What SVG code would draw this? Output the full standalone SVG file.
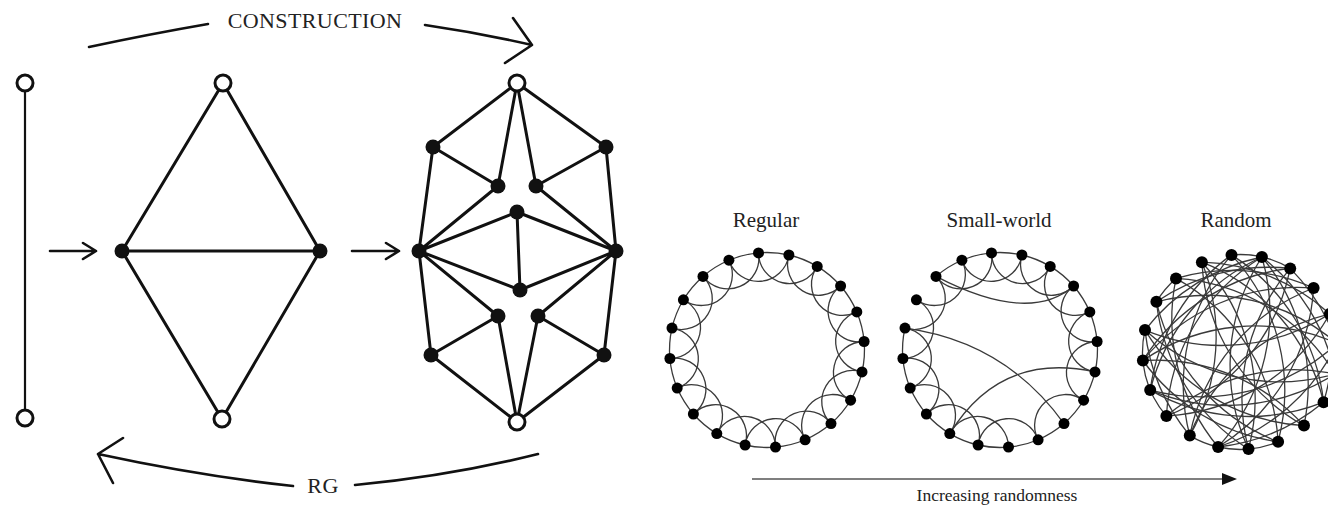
<svg xmlns="http://www.w3.org/2000/svg" xmlns:xlink="http://www.w3.org/1999/xlink" width="1328" height="506" viewBox="0 0 1328 506">
<style>
.e{stroke:#111;stroke-width:3;fill:none;stroke-linecap:round}
.thin{stroke:#111;stroke-width:2.2;fill:none}
.arr{stroke:#111;stroke-width:2.6;fill:none;stroke-linecap:round;stroke-linejoin:round}
.open{fill:#fff;stroke:#111;stroke-width:3}
.full{fill:#111}
.ne{stroke:#3a3a3a;stroke-width:1.3;fill:none}
.dot{fill:#000}
.lab{font-family:"Liberation Serif",serif;font-size:21px;fill:#222;text-anchor:middle}
.big{font-family:"Liberation Serif",serif;font-size:22px;fill:#222;text-anchor:middle;letter-spacing:0.4px}
.cap{font-family:"Liberation Serif",serif;font-size:17.5px;fill:#222;text-anchor:middle}
</style>
<defs>
<path id="nb" d="M0,-97.5 A97.5,97.5 0 0 1 30.13,-92.73"/>
<path id="sk" d="M0,-97.5 A31,31 0 0 0 57.31,-78.88"/>
<g id="pair"><use xlink:href="#nb"/><use xlink:href="#sk"/></g>
</defs>
<rect width="1328" height="506" fill="#fff"/>

<!-- connectors -->
<g id="connectors">
  <line class="thin" x1="25" y1="83" x2="25" y2="418"/>
  <path class="arr" d="M50,251 H96 M83,243 L96,251 L83,259"/>
  <path class="arr" d="M352,251 H399 M386,243 L399,251 L386,259"/>
  <path class="e" d="M223,83 L122,251 M223,83 L320,251 M122,251 L320,251 M122,251 L222,419 M320,251 L222,419"/>
  <path class="e" d="M517,83 L433,147 M517,83 L606,147 M517,83 L498,186 M517,83 L536,186
    M433,147 L498,186 M606,147 L536,186 M433,147 L419,251 M606,147 L616,251
    M498,186 L419,251 M536,186 L616,251 M419,251 L517,212 M616,251 L517,212 M517,212 L520,290
    M419,251 L520,290 M616,251 L520,290 M419,251 L498,316 M616,251 L538,316
    M419,251 L431,355 M616,251 L604,355 M431,355 L498,316 M604,355 L538,316
    M431,355 L517,422 M604,355 L517,422 M498,316 L517,422 M538,316 L517,422"/>
  <path class="arr" d="M89,47 Q150,34 208,24"/>
  <path class="arr" d="M425,25 Q480,33 532,45 M513,18 L532,45 L505,63"/>
  <path class="arr" d="M538,454 Q450,476 355,485"/>
  <path class="arr" d="M293,486 Q200,476 98,454 M123,438 L98,454 L113,483"/>

  <!-- regular ring -->
  <g class="ne" transform="translate(767,350)">
    <use xlink:href="#pair" transform="rotate(-5)"/>
    <use xlink:href="#pair" transform="rotate(13)"/>
    <use xlink:href="#pair" transform="rotate(31)"/>
    <use xlink:href="#pair" transform="rotate(49)"/>
    <use xlink:href="#pair" transform="rotate(67)"/>
    <use xlink:href="#pair" transform="rotate(85)"/>
    <use xlink:href="#pair" transform="rotate(103)"/>
    <use xlink:href="#pair" transform="rotate(121)"/>
    <use xlink:href="#pair" transform="rotate(139)"/>
    <use xlink:href="#pair" transform="rotate(157)"/>
    <use xlink:href="#pair" transform="rotate(175)"/>
    <use xlink:href="#pair" transform="rotate(193)"/>
    <use xlink:href="#pair" transform="rotate(211)"/>
    <use xlink:href="#pair" transform="rotate(229)"/>
    <use xlink:href="#pair" transform="rotate(247)"/>
    <use xlink:href="#pair" transform="rotate(265)"/>
    <use xlink:href="#pair" transform="rotate(283)"/>
    <use xlink:href="#pair" transform="rotate(301)"/>
    <use xlink:href="#pair" transform="rotate(319)"/>
    <use xlink:href="#pair" transform="rotate(337)"/>
  </g>

  <!-- small-world ring -->
  <g class="ne" transform="translate(1000,350)">
    <use xlink:href="#pair" transform="rotate(-5)"/>
    <use xlink:href="#pair" transform="rotate(13)"/>
    <use xlink:href="#pair" transform="rotate(31)"/>
    <use xlink:href="#pair" transform="rotate(49)"/>
    <use xlink:href="#pair" transform="rotate(67)"/>
    <use xlink:href="#pair" transform="rotate(85)"/>
    <use xlink:href="#nb" transform="rotate(103)"/>
    <use xlink:href="#pair" transform="rotate(121)"/>
    <use xlink:href="#nb" transform="rotate(139)"/>
    <use xlink:href="#pair" transform="rotate(157)"/>
    <use xlink:href="#pair" transform="rotate(175)"/>
    <use xlink:href="#pair" transform="rotate(193)"/>
    <use xlink:href="#pair" transform="rotate(211)"/>
    <use xlink:href="#pair" transform="rotate(229)"/>
    <use xlink:href="#pair" transform="rotate(247)"/>
    <use xlink:href="#pair" transform="rotate(265)"/>
    <use xlink:href="#sk" transform="rotate(283)"/>
    <use xlink:href="#sk" transform="rotate(301)"/>
    <use xlink:href="#pair" transform="rotate(319)"/>
    <use xlink:href="#pair" transform="rotate(337)"/>
    <path d="M-64,-73.6 Q29.2,-25.2 73.6,-64"/>
    <path d="M-95,-21.9 Q5.1,-8.4 64,73.6"/>
    <path d="M-50.2,83.6 Q0.5,1.2 95,21.9"/>
  </g>

  <!-- random graph -->
  <g class="ne" transform="translate(1240,352)">
    <path d="M-8.5,-97.1 A200,200 0 0 1 38.1,89.8"/>
    <path d="M-8.5,-97.1 A200,200 0 0 0 -50.2,83.6"/>
    <path d="M-8.5,-97.1 A200,200 0 0 1 83.6,50.2"/>
    <path d="M-8.5,-97.1 A200,200 0 0 0 -89.8,38.1"/>
    <path d="M21.9,-95 A200,200 0 0 0 8.5,97.1"/>
    <path d="M21.9,-95 A200,200 0 0 0 -73.6,64"/>
    <path d="M21.9,-95 A200,200 0 0 1 -21.9,95"/>
    <path d="M21.9,-95 A200,200 0 0 0 -89.8,38.1"/>
    <path d="M21.9,-95 A200,200 0 0 1 64,73.6"/>
    <path d="M21.9,-95 A200,200 0 0 0 -95,-21.9"/>
    <path d="M21.9,-95 A200,200 0 0 1 95,21.9"/>
    <path d="M50.2,-83.6 A200,200 0 0 0 -83.6,-50.2"/>
    <path d="M50.2,-83.6 A200,200 0 0 1 -73.6,64"/>
    <path d="M50.2,-83.6 A200,200 0 0 0 8.5,97.1"/>
    <path d="M50.2,-83.6 A200,200 0 0 0 -97.1,8.5"/>
    <path d="M73.6,-64 A200,200 0 0 0 -97.1,8.5"/>
    <path d="M73.6,-64 A200,200 0 0 0 -64,-73.6"/>
    <path d="M73.6,-64 A200,200 0 0 1 -21.9,95"/>
    <path d="M73.6,-64 A200,200 0 0 0 -50.2,83.6"/>
    <path d="M89.8,-38.1 A200,200 0 0 1 -95,-21.9"/>
    <path d="M89.8,-38.1 A200,200 0 0 0 -50.2,83.6"/>
    <path d="M89.8,-38.1 A200,200 0 0 0 -38.1,-89.8"/>
    <path d="M89.8,-38.1 A200,200 0 0 1 -73.6,64"/>
    <path d="M97.1,-8.5 A200,200 0 0 0 -97.1,8.5"/>
    <path d="M97.1,-8.5 A200,200 0 0 1 -89.8,38.1"/>
    <path d="M97.1,-8.5 A200,200 0 0 0 -83.6,-50.2"/>
    <path d="M97.1,-8.5 A200,200 0 0 1 -21.9,95"/>
    <path d="M95,21.9 A200,200 0 0 1 -95,-21.9"/>
    <path d="M95,21.9 A200,200 0 0 0 -73.6,64"/>
    <path d="M95,21.9 A200,200 0 0 0 -64,-73.6"/>
    <path d="M95,21.9 A200,200 0 0 1 -89.8,38.1"/>
    <path d="M83.6,50.2 A200,200 0 0 1 -89.8,38.1"/>
    <path d="M83.6,50.2 A200,200 0 0 0 -38.1,-89.8"/>
    <path d="M83.6,50.2 A200,200 0 0 1 -21.9,95"/>
    <path d="M64,73.6 A200,200 0 0 1 -95,-21.9"/>
    <path d="M64,73.6 A200,200 0 0 1 -38.1,-89.8"/>
    <path d="M64,73.6 A200,200 0 0 0 -97.1,8.5"/>
    <path d="M38.1,89.8 A200,200 0 0 0 -64,-73.6"/>
    <path d="M38.1,89.8 A200,200 0 0 1 -97.1,8.5"/>
    <path d="M38.1,89.8 A200,200 0 0 1 -83.6,-50.2"/>
    <path d="M8.5,97.1 A200,200 0 0 1 -83.6,-50.2"/>
    <path d="M8.5,97.1 A200,200 0 0 0 -38.1,-89.8"/>
    <path d="M-21.9,95 A200,200 0 0 1 -64,-73.6"/>
    <path d="M-50.2,83.6 A200,200 0 0 0 -38.1,-89.8"/>
    <path d="M-73.6,64 A97.5,97.5 0 0 1 -95,-21.9"/>
    <path d="M-21.9,95 A97.5,97.5 0 0 1 -50.2,83.6"/>
    <path d="M8.5,97.1 A97.5,97.5 0 0 1 -21.9,95"/>
    <path d="M38.1,89.8 A97.5,97.5 0 0 1 8.5,97.1"/>
    <path d="M-50.2,83.6 A200,200 0 0 1 -95,-21.9"/>
    <path d="M-8.5,-97.1 A97.5,97.5 0 0 1 50.2,-83.6"/>
    <path d="M50.2,-83.6 A200,200 0 0 1 97.1,-8.5"/>
    <path d="M-64,-73.6 A97.5,97.5 0 0 0 -83.6,-50.2"/>
    <path d="M89.8,-38.1 A200,200 0 0 1 83.6,50.2"/>
  </g>
  <line x1="752" y1="479" x2="1224" y2="479" stroke="#555" stroke-width="1.6"/>
  <polygon points="1222,473 1237,479 1222,485" fill="#111"/>
</g>

<g id="s1-top"><circle class="open" cx="25" cy="83" r="8"/></g>
<g id="s1-bot"><circle class="open" cx="25" cy="418" r="8"/></g>
<g id="s2-top"><circle class="open" cx="223" cy="83" r="8"/></g>
<g id="s2-bot"><circle class="open" cx="222" cy="419" r="8"/></g>
<g id="s2-left"><circle class="full" cx="122" cy="251" r="7.5"/></g>
<g id="s2-right"><circle class="full" cx="320" cy="251" r="7.5"/></g>
<g id="s3-top"><circle class="open" cx="517" cy="83" r="8"/></g>
<g id="s3-bot"><circle class="open" cx="517" cy="422" r="8"/></g>
<g id="s3-left"><circle class="full" cx="419" cy="251" r="7.5"/></g>
<g id="s3-right"><circle class="full" cx="616" cy="251" r="7.5"/></g>
<g id="s3-uol"><circle class="full" cx="433" cy="147" r="7.5"/></g>
<g id="s3-uor"><circle class="full" cx="606" cy="147" r="7.5"/></g>
<g id="s3-uil"><circle class="full" cx="498" cy="186" r="7.5"/></g>
<g id="s3-uir"><circle class="full" cx="536" cy="186" r="7.5"/></g>
<g id="s3-ct"><circle class="full" cx="517" cy="212" r="7.5"/></g>
<g id="s3-cb"><circle class="full" cx="520" cy="290" r="7.5"/></g>
<g id="s3-lil"><circle class="full" cx="498" cy="316" r="7.5"/></g>
<g id="s3-lir"><circle class="full" cx="538" cy="316" r="7.5"/></g>
<g id="s3-lol"><circle class="full" cx="431" cy="355" r="7.5"/></g>
<g id="s3-lor"><circle class="full" cx="604" cy="355" r="7.5"/></g>

<text class="big" x="315" y="28">CONSTRUCTION</text>
<text class="big" x="323" y="493">RG</text>

<g transform="translate(767,350)" class="dot">
<g id="reg-n0"><circle cx="-8.5" cy="-97.1" r="5.5"/></g>
<g id="reg-n1"><circle cx="21.9" cy="-95" r="5.5"/></g>
<g id="reg-n2"><circle cx="50.2" cy="-83.6" r="5.5"/></g>
<g id="reg-n3"><circle cx="73.6" cy="-64" r="5.5"/></g>
<g id="reg-n4"><circle cx="89.8" cy="-38.1" r="5.5"/></g>
<g id="reg-n5"><circle cx="97.1" cy="-8.5" r="5.5"/></g>
<g id="reg-n6"><circle cx="95" cy="21.9" r="5.5"/></g>
<g id="reg-n7"><circle cx="83.6" cy="50.2" r="5.5"/></g>
<g id="reg-n8"><circle cx="64" cy="73.6" r="5.5"/></g>
<g id="reg-n9"><circle cx="38.1" cy="89.8" r="5.5"/></g>
<g id="reg-n10"><circle cx="8.5" cy="97.1" r="5.5"/></g>
<g id="reg-n11"><circle cx="-21.9" cy="95" r="5.5"/></g>
<g id="reg-n12"><circle cx="-50.2" cy="83.6" r="5.5"/></g>
<g id="reg-n13"><circle cx="-73.6" cy="64" r="5.5"/></g>
<g id="reg-n14"><circle cx="-89.8" cy="38.1" r="5.5"/></g>
<g id="reg-n15"><circle cx="-97.1" cy="8.5" r="5.5"/></g>
<g id="reg-n16"><circle cx="-95" cy="-21.9" r="5.5"/></g>
<g id="reg-n17"><circle cx="-83.6" cy="-50.2" r="5.5"/></g>
<g id="reg-n18"><circle cx="-64" cy="-73.6" r="5.5"/></g>
<g id="reg-n19"><circle cx="-38.1" cy="-89.8" r="5.5"/></g>
</g>
<g transform="translate(1000,350)" class="dot">
<g id="sw-n0"><circle cx="-8.5" cy="-97.1" r="5.5"/></g>
<g id="sw-n1"><circle cx="21.9" cy="-95" r="5.5"/></g>
<g id="sw-n2"><circle cx="50.2" cy="-83.6" r="5.5"/></g>
<g id="sw-n3"><circle cx="73.6" cy="-64" r="5.5"/></g>
<g id="sw-n4"><circle cx="89.8" cy="-38.1" r="5.5"/></g>
<g id="sw-n5"><circle cx="97.1" cy="-8.5" r="5.5"/></g>
<g id="sw-n6"><circle cx="95" cy="21.9" r="5.5"/></g>
<g id="sw-n7"><circle cx="83.6" cy="50.2" r="5.5"/></g>
<g id="sw-n8"><circle cx="64" cy="73.6" r="5.5"/></g>
<g id="sw-n9"><circle cx="38.1" cy="89.8" r="5.5"/></g>
<g id="sw-n10"><circle cx="8.5" cy="97.1" r="5.5"/></g>
<g id="sw-n11"><circle cx="-21.9" cy="95" r="5.5"/></g>
<g id="sw-n12"><circle cx="-50.2" cy="83.6" r="5.5"/></g>
<g id="sw-n13"><circle cx="-73.6" cy="64" r="5.5"/></g>
<g id="sw-n14"><circle cx="-89.8" cy="38.1" r="5.5"/></g>
<g id="sw-n15"><circle cx="-97.1" cy="8.5" r="5.5"/></g>
<g id="sw-n16"><circle cx="-95" cy="-21.9" r="5.5"/></g>
<g id="sw-n17"><circle cx="-83.6" cy="-50.2" r="5.5"/></g>
<g id="sw-n18"><circle cx="-64" cy="-73.6" r="5.5"/></g>
<g id="sw-n19"><circle cx="-38.1" cy="-89.8" r="5.5"/></g>
</g>
<g transform="translate(1240,352)" class="dot">
<g id="rnd-n0"><circle cx="-8.5" cy="-97.1" r="6"/></g>
<g id="rnd-n1"><circle cx="21.9" cy="-95" r="6"/></g>
<g id="rnd-n2"><circle cx="50.2" cy="-83.6" r="6"/></g>
<g id="rnd-n3"><circle cx="73.6" cy="-64" r="6"/></g>
<g id="rnd-n4"><circle cx="89.8" cy="-38.1" r="6"/></g>
<g id="rnd-n5"><circle cx="97.1" cy="-8.5" r="6"/></g>
<g id="rnd-n6"><circle cx="95" cy="21.9" r="6"/></g>
<g id="rnd-n7"><circle cx="83.6" cy="50.2" r="6"/></g>
<g id="rnd-n8"><circle cx="64" cy="73.6" r="6"/></g>
<g id="rnd-n9"><circle cx="38.1" cy="89.8" r="6"/></g>
<g id="rnd-n10"><circle cx="8.5" cy="97.1" r="6"/></g>
<g id="rnd-n11"><circle cx="-21.9" cy="95" r="6"/></g>
<g id="rnd-n12"><circle cx="-50.2" cy="83.6" r="6"/></g>
<g id="rnd-n13"><circle cx="-73.6" cy="64" r="6"/></g>
<g id="rnd-n14"><circle cx="-89.8" cy="38.1" r="6"/></g>
<g id="rnd-n15"><circle cx="-97.1" cy="8.5" r="6"/></g>
<g id="rnd-n16"><circle cx="-95" cy="-21.9" r="6"/></g>
<g id="rnd-n17"><circle cx="-83.6" cy="-50.2" r="6"/></g>
<g id="rnd-n18"><circle cx="-64" cy="-73.6" r="6"/></g>
<g id="rnd-n19"><circle cx="-38.1" cy="-89.8" r="6"/></g>
</g>

<text class="lab" x="766" y="227">Regular</text>
<text class="lab" x="999" y="227">Small-world</text>
<text class="lab" x="1236" y="227">Random</text>
<text class="cap" x="997" y="501">Increasing randomness</text>
</svg>
